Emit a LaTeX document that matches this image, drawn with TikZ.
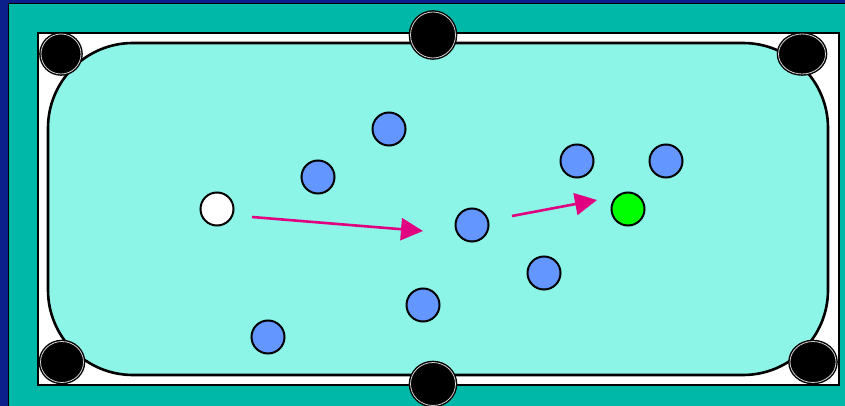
\documentclass[tikz,border=0pt]{standalone}
\usepackage{xcolor}
\usepackage{tikz}
\usetikzlibrary{arrows.meta,shapes.geometric}
\definecolor{navy}{RGB}{12,32,140}
\definecolor{rail}{RGB}{0,184,168}
\definecolor{cloth}{RGB}{140,245,232}
\definecolor{cuepink}{RGB}{224,0,128}
\definecolor{blueball}{RGB}{100,150,255}
\tikzset{
pocket/.style={ellipse,draw=black,fill=black,line width=1.4pt,double=gray!35,double distance=0.8pt,inner sep=0pt},
ball/.style={circle,draw,line width=2pt,minimum size=33pt,inner sep=0pt,fill=blueball},
shot/.style={-{Triangle[length=22pt,width=22pt]},cuepink,line width=2.6pt}
}

\begin{document}
\begin{tikzpicture}[x=1pt,y=-1pt]
\useasboundingbox (0,0) rectangle (845,406);
% table frame
\fill[navy] (0,0) rectangle (845,406);
\draw[fill=rail,line width=1pt] (8,3.5) rectangle (852,412);
\draw[fill=white,line width=2pt] (38,33) rectangle (839,385);
\draw[fill=cloth,line width=2.6pt,rounded corners=85pt] (48,43) rectangle (828,375);
% pockets
\node[pocket,minimum width=40pt,minimum height=40pt](tl) at (61,54){};
\node[pocket,minimum width=47pt,minimum height=40pt](tr) at (802,54){};
\node[pocket,minimum width=43pt,minimum height=41pt](bl) at (62,362){};
\node[pocket,minimum width=46pt,minimum height=41pt](br) at (813,362){};
\node[pocket,minimum width=45pt,minimum height=46pt](tm) at (433,35){};
\node[pocket,minimum width=45pt,minimum height=43pt](bm) at (433,384){};
% balls
\foreach \n/\x/\y in {b1/389/129,b2/318/177,b3/577/161,b4/666/161,b5/472/225,b6/544/273,b7/423/305,b8/268/337}
  \node[ball](\n) at (\x,\y){};
\node[ball,fill=white](cueball) at (217,209){};
\node[ball,fill=green](target) at (628,209){};
% shots
\coordinate (s1) at (252,217);
\coordinate (e1) at (423,231);
\coordinate (s2) at (512,216);
\coordinate (e2) at (597,200);
\foreach \x/\y in {s1/e1,s2/e2} \draw[shot](\x)--(\y);
\end{tikzpicture}
\end{document}
